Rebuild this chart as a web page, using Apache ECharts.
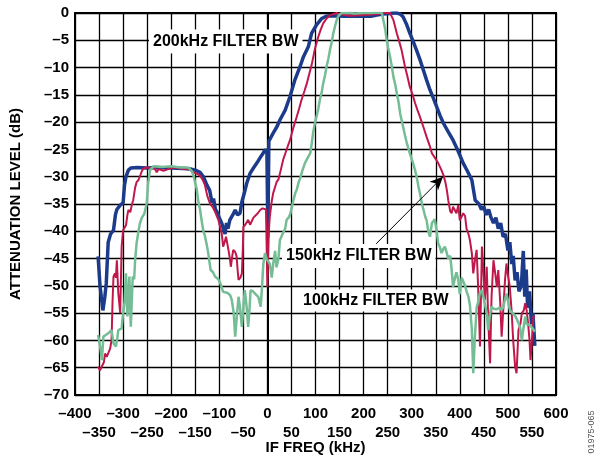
<!DOCTYPE html>
<html>
<head>
<meta charset="utf-8">
<script src="https://cdn.jsdelivr.net/npm/echarts@6/dist/echarts.min.js"></script>
<style>
html,body{margin:0;padding:0;background:#fff;}
#chart{width:597px;height:461px;}
</style>
</head>
<body>
<div id="chart"></div>
<script>
// IF frequency (kHz) / attenuation (dB) pairs
var bw200 = [[-352,-44.6],[-348,-50],[-342,-54.5],[-338,-52],[-335,-49.5],[-331,-42],[-326,-40.5],[-320,-39.8],[-316,-37],[-313,-36],[-306,-35.2],[-300,-34.8],[-297,-31.5],[-294,-30],[-289,-28.8],[-284,-28.4],[-270,-28.3],[-250,-28.4],[-230,-28.3],[-200,-28.4],[-175,-28.5],[-160,-28.6],[-150,-28.8],[-140,-29.2],[-133,-30],[-126,-31.5],[-120,-32.5],[-115,-34.8],[-112,-34],[-108,-36],[-105,-36.4],[-100,-37.5],[-95,-38.5],[-90,-40],[-88,-40.5],[-85,-38.5],[-82,-39.5],[-78,-37.9],[-72,-37],[-67,-36.1],[-62,-37],[-57,-36.7],[-53,-34.6],[-48,-33],[-43,-31.2],[-36,-29.4],[-29,-28.4],[-22,-27.5],[-15,-26.5],[-9,-25.7],[-4,-25],[-1,-25.4],[1,-41],[3,-23.5],[6,-23.3],[12,-22],[20,-20.8],[26,-19.6],[37,-17.8],[47,-15.3],[57,-12.3],[68,-9.8],[75,-8],[85,-6.2],[92,-3.7],[102,-2.2],[113,-1],[122,-0.6],[130,-0.5],[160,-0.6],[190,-0.6],[215,-0.6],[225,-0.4],[240,-0.2],[255,-0.1],[262,0],[269,0],[276,-0.2],[282,-0.7],[289,-2],[296,-3.7],[303,-5.2],[310,-6.8],[317,-8.5],[324,-10.4],[331,-12.3],[338,-14.1],[345,-15.6],[352,-17.2],[359,-18.8],[366,-20.2],[376,-21.8],[386,-23.3],[396,-25.2],[407,-27.5],[416,-29],[425,-30.6],[432,-34.3],[440,-35],[445,-36],[450,-35.5],[455,-37],[460,-36],[465,-37.5],[470,-38.5],[475,-37.5],[480,-39.5],[485,-38.5],[490,-41],[495,-40.5],[500,-43.5],[504,-42],[508,-46],[511,-44.5],[515,-49],[519,-47.5],[523,-51],[528,-50],[532,-43.6],[535,-52],[538,-47],[541,-54],[545,-51],[549,-57],[552,-55],[556,-61]];

var bw150 = [[-352,-64.8],[-348,-65.5],[-344,-65.7],[-340,-64],[-337.6,-62.4],[-334,-63],[-331,-63],[-327,-61.5],[-324,-60],[-322,-53],[-320,-48.3],[-317,-47.7],[-315,-48.5],[-313,-45.3],[-310,-51.3],[-306,-55],[-303,-42.8],[-300,-39.8],[-297,-39.5],[-294,-38.9],[-291,-37],[-289,-36.1],[-285,-36.5],[-282,-35.2],[-279,-34.3],[-275,-32],[-272,-31],[-268,-30.6],[-265,-30.3],[-261,-29],[-258,-28.5],[-250,-28.3],[-240,-28.5],[-235,-28.4],[-230,-29.2],[-226,-28.6],[-223,-28.5],[-216,-28.9],[-209,-28.7],[-200,-28.4],[-190,-28.3],[-180,-28.5],[-170,-28.6],[-161,-28.7],[-154,-29.2],[-147,-29.4],[-140,-29.8],[-135,-30.5],[-130,-31.5],[-125,-33.5],[-119,-35],[-114,-35.5],[-109,-36.4],[-102,-37.9],[-95,-40.4],[-92,-42.8],[-89,-42],[-86,-41],[-81,-43.4],[-78,-45],[-76,-46.5],[-73,-44.5],[-71,-43.4],[-67,-43.8],[-64,-44.6],[-62,-47],[-60,-48.9],[-56,-48.5],[-53,-47.7],[-51,-43],[-50,-39.2],[-46,-38.8],[-43,-38.5],[-40,-37.9],[-36,-38.8],[-33,-38.5],[-29,-37.5],[-26,-37.3],[-20,-36.7],[-15,-36.1],[-10,-35.8],[-7,-35.5],[-3,-36],[0,-50.2],[3,-40],[5,-37.3],[9,-34.5],[12,-33],[19,-31],[23,-30.5],[28,-28.7],[33,-26.8],[37,-25.8],[42,-24.5],[47,-23.3],[54,-21],[61,-19],[66,-17.5],[71,-15.9],[77,-14.3],[82,-12.9],[87,-11.2],[92,-9.5],[99,-6.5],[106,-4.3],[111,-3],[116,-1.9],[123,-1],[130,-0.4],[144,0],[150,-0.2],[170,-0.5],[190,-0.4],[210,-0.3],[230,-0.2],[241,0],[250,0],[255,0],[262,-1.3],[269,-3.7],[274,-5.2],[279,-6.8],[286,-9.8],[291,-11.6],[296,-13.5],[302,-15],[307,-16.5],[312,-17.8],[317,-19],[324,-20.8],[331,-22.7],[337,-24.2],[342,-25.7],[348,-26.5],[355,-27.5],[361,-28.6],[366,-29.7],[370,-31],[373,-32.4],[376,-34.3],[380,-36.3],[383,-36.7],[386,-35.5],[390,-35.5],[393,-36.7],[397,-35.2],[400,-38],[404,-37.3],[407,-36.7],[411,-37.2],[414,-39.5],[418,-40.5],[421,-41.6],[425,-44],[428,-47.7],[432,-45],[435,-43.4],[438,-50],[442,-61.1],[444,-52],[446,-42.8],[449,-47],[452,-52.6],[456,-46.5],[459,-56],[463,-64.2],[466,-52],[470,-45.3],[474,-48],[477,-50.2],[480,-47.1],[484,-53],[487,-59.3],[490,-55],[494,-48.9],[497,-45.9],[500,-48],[504,-50.2],[508,-55],[511,-60],[515,-64.8],[518,-66],[520,-62],[522,-58.1],[526,-57],[529,-55],[533,-54.5],[536,-53.2],[539,-54.5],[542,-56.9],[545,-60],[547,-63.6],[550,-60],[553,-55.6],[556,-55.6]];

var bw100 = [[-352,-59],[-348,-61],[-344,-63.6],[-341,-59.3],[-336,-59],[-331,-58.7],[-327,-59],[-324,-58.1],[-320,-60.5],[-315,-61.1],[-312,-59.5],[-310,-58.1],[-306,-58],[-303,-57.8],[-300,-55],[-297,-53],[-294,-47.7],[-291,-55.6],[-289,-52],[-287,-48.3],[-284,-57.5],[-280,-48.3],[-277,-48.8],[-275,-45.3],[-272,-42.2],[-268,-40],[-265,-38.5],[-261,-37.5],[-256,-36.8],[-251,-35],[-248,-31.2],[-244,-28.8],[-237,-28.1],[-220,-28.2],[-200,-28.1],[-180,-28.3],[-165,-28.3],[-161,-28.5],[-157,-29],[-153,-30],[-150,-31.2],[-147,-32.2],[-144,-34.3],[-140,-36],[-137,-37.9],[-133,-40],[-130,-40.8],[-126,-42.5],[-123,-44],[-118,-47.1],[-113,-47.5],[-109,-48.3],[-102,-48.8],[-98,-49.5],[-92,-51.1],[-86,-51.2],[-81,-51.4],[-77,-51.8],[-74,-52.6],[-70,-55],[-67,-59.3],[-63,-55],[-60,-52],[-57,-54],[-53,-57.5],[-50,-54],[-47,-50.8],[-43,-54],[-40,-57.5],[-37,-54],[-35,-50.8],[-30,-51],[-26,-51.4],[-22,-51.5],[-19,-52],[-14,-53.8],[-11,-50],[-8.5,-46],[-5,-44],[-2,-45],[2,-44.8],[5,-46],[9,-48.5],[12,-46],[16,-43.6],[19,-46.6],[23,-45],[26,-41.6],[30,-40.8],[33,-40.5],[37,-39.5],[40,-37.9],[44,-37.5],[47,-37],[51,-35.5],[54,-34.3],[58,-33],[61,-32.4],[65,-31],[68,-30.3],[73,-28.8],[78,-27.5],[84,-26.5],[89,-25.7],[92,-24],[95,-22],[98,-20.5],[102,-19],[106,-17.5],[109,-15.9],[113,-14.5],[116,-12.9],[120,-11.3],[123,-9.8],[127,-8.3],[130,-6.8],[134,-5.2],[137,-3.7],[141,-2.3],[144,-1.3],[148,-0.5],[154,0],[165,0],[172,0.1],[180,-0.1],[200,0],[215,0],[230,0.1],[238,0],[241,-1.3],[245,-3],[248,-4.9],[251,-6.4],[255,-8],[259,-10],[262,-11.7],[266,-13.2],[269,-14.7],[273,-16.5],[276,-18.4],[279,-19.6],[282,-20.8],[286,-22.4],[290,-23.9],[296,-25.7],[302,-27.3],[307,-28.8],[311,-30.3],[314,-31.8],[318,-33.4],[321,-34.9],[325,-36.2],[328,-37.3],[331,-38],[334.5,-40],[338,-41],[342,-38.5],[348,-37.8],[352,-40],[355,-42.2],[359,-43],[362,-44],[366,-43.2],[369,-42.8],[373,-44],[376,-45],[380,-44.5],[383,-47],[386,-50.2],[390,-48.5],[393,-47.5],[397,-49],[400,-51.5],[404,-48.5],[407,-48.5],[411,-50],[414,-51],[418,-52],[421,-53.5],[425,-58],[428,-66],[431,-60],[435,-54],[438,-53],[442,-51.2],[446,-50.8],[449,-52],[452,-52],[456,-55],[459,-58.1],[463,-55],[466,-53.8],[470,-54.2],[473,-54.2],[477,-54.3],[482,-54],[486,-54.4],[490,-54],[494,-52.5],[497,-51.4],[501,-51.4],[504,-54.4],[508,-54.8],[511,-55],[515,-55.5],[518,-56],[521,-56.3],[525,-57.5],[529,-60],[532,-58],[536,-55.6],[539,-57],[543,-57],[546,-57.2],[550,-57.5],[553,-58],[556,-58.4]];

var xRange = [-400, 600, 50];
var yRange = [-70, 0, 5];
var arrowFrom = [226, -42.3];
var arrowTo = [365, -30];

var FONT = '"Liberation Sans", Arial, Helvetica, sans-serif';
function dash(v){ return v < 0 ? '\u2013' + Math.abs(v) : String(v); }
function isHundred(v){ return Math.abs(Math.round(v)) % 100 === 0; }

var labelBase = {showMinLabel: true, showMaxLabel: true, hideOverlap: false, fontFamily: FONT, fontWeight: 'bold', fontSize: 15, color: '#000'};

var chart = echarts.init(document.getElementById('chart'), null, {renderer:'canvas'});
chart.setOption({
  animation: false,
  backgroundColor: '#fff',
  grid: {left: 75, right: 41, top: 13, bottom: 66, show: true, borderColor: '#000', borderWidth: 2, containLabel: false, outerBoundsMode: 'none'},
  xAxis: [{
    type: 'value', min: xRange[0], max: xRange[1], interval: xRange[2], position: 'bottom',
    axisLine: {show: true, lineStyle: {color: '#000', width: 2}},
    axisTick: {show: false},
    splitLine: {show: true, lineStyle: {color: '#000', width: 1.3}},
    axisLabel: Object.assign({}, labelBase, {margin: 11, formatter: function(v){ return isHundred(v) ? dash(v) : ''; }})
  }, {
    type: 'value', min: xRange[0], max: xRange[1], interval: xRange[2], position: 'bottom', offset: 0,
    name: 'IF FREQ (kHz)', nameLocation: 'middle', nameGap: 45, nameMoveOverlap: false,
    nameTextStyle: {fontFamily: FONT, fontWeight: 'bold', fontSize: 15, color: '#000'},
    axisLine: {show: false}, axisTick: {show: false}, splitLine: {show: false},
    axisLabel: Object.assign({}, labelBase, {margin: 30, formatter: function(v){ return isHundred(v) ? '' : dash(v); }})
  }],
  yAxis: {
    type: 'value', min: yRange[0], max: yRange[1], interval: yRange[2],
    name: 'ATTENUATION LEVEL (dB)', nameLocation: 'middle', nameGap: 52, nameRotate: 90, nameMoveOverlap: false,
    nameTextStyle: {fontFamily: FONT, fontWeight: 'bold', fontSize: 15, color: '#000'},
    axisLine: {show: true, lineStyle: {color: '#000', width: 2}},
    axisTick: {show: false},
    splitLine: {show: true, lineStyle: {color: '#000', width: 1.3}},
    axisLabel: {margin: 6, fontFamily: FONT, fontWeight: 'bold', fontSize: 15, color: '#000', formatter: function(v){ return dash(v); }}
  },
  series: [
    {name: '200kHz FILTER BW', type: 'line', data: bw200, showSymbol: false, symbol: 'none', lineStyle: {color: '#1d3b8b', width: 3.5}, z: 2},
    {name: '150kHz FILTER BW', type: 'line', data: bw150, showSymbol: false, symbol: 'none', lineStyle: {color: '#c1184b', width: 2}, z: 3,
      markLine: {silent: true, symbol: ['none', 'arrow'], symbolSize: [9, 13], label: {show: false},
        lineStyle: {color: '#000', width: 1, type: 'solid'},
        data: [[{coord: arrowFrom}, {coord: arrowTo}]]}},
    {name: '100kHz FILTER BW', type: 'line', data: bw100, showSymbol: false, symbol: 'none', lineStyle: {color: '#74bd95', width: 2.5}, z: 4}
  ],
  graphic: [
    {type: 'text', z: 100, x: 149, y: 41.5, style: {text: '200kHz FILTER BW', font: 'bold 16px ' + FONT, fill: '#000', backgroundColor: '#fff', padding: [4, 4], align: 'left', verticalAlign: 'middle'}},
    {type: 'text', z: 100, x: 282, y: 256, style: {text: '150kHz FILTER BW', font: 'bold 16px ' + FONT, fill: '#000', backgroundColor: '#fff', padding: [4, 4], align: 'left', verticalAlign: 'middle'}},
    {type: 'text', z: 100, x: 299, y: 300.5, style: {text: '100kHz FILTER BW', font: 'bold 16px ' + FONT, fill: '#000', backgroundColor: '#fff', padding: [3, 4], align: 'left', verticalAlign: 'middle'}},
    {type: 'text', z: 100, x: 592, y: 432, rotation: Math.PI / 2, style: {text: '01975-065', font: '9px ' + FONT, fill: '#555', align: 'center', verticalAlign: 'middle'}}
  ]
});
</script>
</body>
</html>
